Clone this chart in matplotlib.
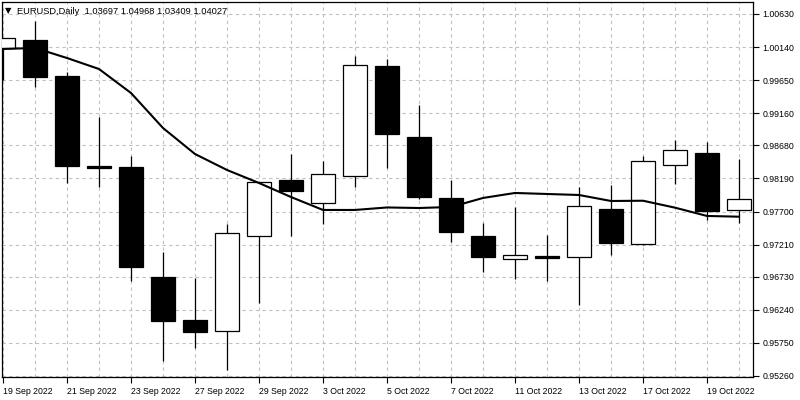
import matplotlib
matplotlib.use("Agg")
import matplotlib.pyplot as plt
from matplotlib.patches import Rectangle

plt.rcParams["font.family"] = ["Liberation Sans", "DejaVu Sans"]

dates = ["19 Sep 2022", "20 Sep 2022", "21 Sep 2022", "22 Sep 2022", "23 Sep 2022",
         "26 Sep 2022", "27 Sep 2022", "28 Sep 2022", "29 Sep 2022", "30 Sep 2022",
         "3 Oct 2022", "4 Oct 2022", "5 Oct 2022", "6 Oct 2022", "7 Oct 2022",
         "10 Oct 2022", "11 Oct 2022", "12 Oct 2022", "13 Oct 2022", "14 Oct 2022",
         "17 Oct 2022", "18 Oct 2022", "19 Oct 2022", "20 Oct 2022"]
opens = [1.00126, 1.00244, 0.99710, 0.98375, 0.98360, 0.96729, 0.96091, 0.95928,
         0.97337, 0.98168, 0.97826, 0.98227, 0.99859, 0.98805, 0.97901, 0.97337,
         0.96996, 0.97040, 0.97025, 0.97737, 0.97218, 0.98390, 0.98568, 0.97723]
highs = [1.00280, 1.00526, 0.99770, 0.99102, 0.98524, 0.97100, 0.96714, 0.97515,
         0.98140, 0.98553, 0.98449, 1.00007, 0.99963, 0.99280, 0.98168, 0.97530,
         0.97767, 0.97352, 0.98064, 0.98093, 0.98524, 0.98761, 0.98731, 0.98479]
lows = [0.99651, 0.99547, 0.98123, 0.98064, 0.96669, 0.95483, 0.95675, 0.95349,
        0.96343, 0.97337, 0.97515, 0.98064, 0.98346, 0.97886, 0.97248, 0.96803,
        0.96699, 0.96669, 0.96313, 0.97055, 0.97210, 0.98108, 0.97574, 0.97530]
closes = [1.00274, 0.99696, 0.98375, 0.98346, 0.96877, 0.96076, 0.95913, 0.97381,
          0.98138, 0.98004, 0.98257, 0.99874, 0.98850, 0.97915, 0.97396, 0.97025,
          0.97055, 0.97010, 0.97782, 0.97233, 0.98449, 0.98613, 0.97708, 0.97886]
ma_values = [1.00111, 1.00126, 0.99977, 0.99814, 0.99458, 0.98939, 0.98553, 0.98316,
             0.98123, 0.97915, 0.97723, 0.97723, 0.97760, 0.97752, 0.97767, 0.97901,
             0.97975, 0.97960, 0.97945, 0.97856, 0.97860, 0.97757, 0.97634, 0.97623]
ytick_labels = ["1.00630", "1.00140", "0.99650", "0.99160", "0.98680", "0.98190",
                "0.97700", "0.97210", "0.96730", "0.96240", "0.95750", "0.95260"]
title_text = "EURUSD,Daily  1.03697 1.04968 1.03409 1.04027"

fig = plt.figure(figsize=(8, 4), dpi=100)
ax = fig.add_axes([2 / 800, 23 / 400, 751 / 800, 375 / 400])

n = len(dates)
xs = list(range(n))
body_w = 0.78

for i in xs:
    o, h, l, c = opens[i], highs[i], lows[i], closes[i]
    ax.vlines(i, l, h, color="black", linewidth=0.9, zorder=2)
    bull = c >= o
    bottom = min(o, c)
    height = max(abs(c - o), 0.00004)
    ax.add_patch(Rectangle((i - body_w / 2, bottom), body_w, height,
                           facecolor="white" if bull else "black",
                           edgecolor="black", linewidth=0.9, zorder=3))

ax.plot(xs, ma_values, color="black", linewidth=1.5, zorder=4)

ax.set_xlim(-1 / 32, -1 / 32 + 751 / 32)
ax.set_ylim(0.95245, 1.00808)

yt = [float(t) for t in ytick_labels]
ax.set_yticks(yt)
ax.set_yticklabels(ytick_labels)
ax.yaxis.tick_right()
ax.tick_params(axis="y", which="major", direction="out", length=4, width=0.8,
               labelsize=6.3, pad=3, colors="black")

major_idx = xs[::2]
ax.set_xticks(major_idx)
ax.set_xticklabels([dates[i] for i in major_idx], ha="left")
ax.set_xticks(xs, minor=True)
ax.tick_params(axis="x", which="major", direction="out", length=4, width=0.8,
               labelsize=6.3, pad=3, colors="black")
ax.tick_params(axis="x", which="minor", length=0)
for lab in ax.get_xticklabels():
    lab.set_horizontalalignment("left")

ax.grid(True, which="both", color="#c0c0c0", linestyle=(0, (3, 3)), linewidth=0.8, zorder=0)
ax.set_axisbelow(True)

for sp in ax.spines.values():
    sp.set_color("black")
    sp.set_linewidth(0.9)

fig.text(5 / 800, 1 - 11 / 400, "\u25bc", fontsize=6, va="center", ha="left",
         color="black", family="DejaVu Sans")
fig.text(17 / 800, 1 - 11 / 400, title_text, fontsize=6.7, va="center", ha="left", color="black")

fig.savefig("out.png", dpi=100, facecolor="white")
